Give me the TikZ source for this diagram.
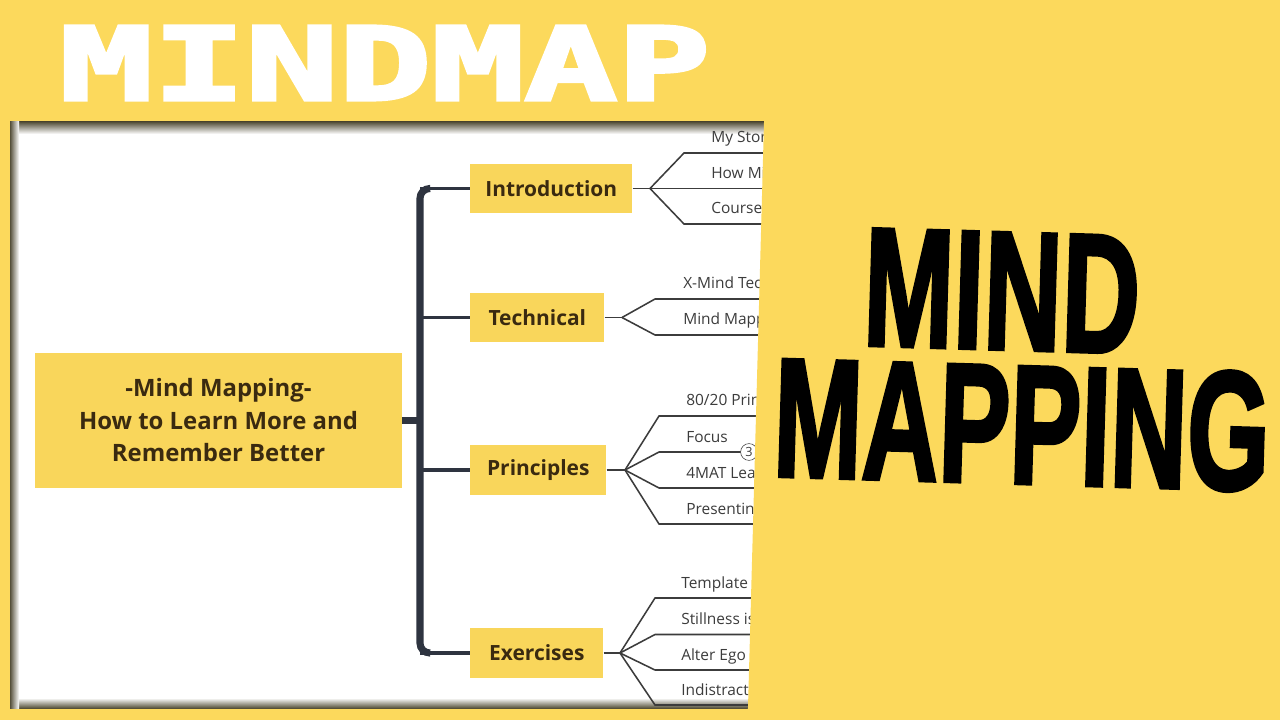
\documentclass[tikz,border=0pt]{standalone}
\usepackage{fontspec}
\usepackage{graphicx}
\setmainfont{Open Sans}
\IfFontExistsTF{Open Sans SemiBold}
  {\newfontfamily\semifont{Open Sans SemiBold}}
  {\newcommand\semifont{\bfseries}}
\newfontfamily\blockfont{DejaVu Sans Mono}[FakeBold=3]
\newfontfamily\heavyfont{Liberation Sans}[FakeBold=2.5]
\usetikzlibrary{calc}

\definecolor{amarillo}{HTML}{FCD95C}
\definecolor{caja}{HTML}{F9D65B}
\definecolor{pizarra}{HTML}{2E3440}
\definecolor{tinta}{HTML}{3A2A10}
\definecolor{gris}{HTML}{3C3C3C}
\definecolor{sombra}{HTML}{55503A}

\begin{document}
\begin{tikzpicture}[
  x=0.025cm, y=-0.025cm,
  rootbox/.style={fill=caja, minimum width=9.175cm, minimum height=3.375cm,
    align=center, text=tinta, font=\fontsize{17}{23.1}\selectfont\bfseries},
  topic/.style={fill=caja, anchor=west, minimum height=1.225cm, inner sep=0pt,
    text=tinta, font=\fontsize{14.9}{18}\selectfont\semifont},
  leaf/.style={anchor=base west, inner sep=0pt, text=gris,
    font=\fontsize{11}{13}\selectfont},
  trunk/.style={draw=pizarra, line width=5pt, rounded corners=7pt},
  twig/.style={draw=pizarra, line width=2.2pt},
  vein/.style={draw=gris, line width=1.1pt}]

  \useasboundingbox (0,0) rectangle (1280,720);
  \fill[amarillo] (0,0) rectangle (1280,720);

  % panel blanco
  \fill[white] (10,122) rectangle (790,708);
  \shade[top color=sombra, bottom color=white] (10,122) rectangle (790,134);
  \shade[top color=white, bottom color=sombra] (10,698) rectangle (790,708);
  \shade[left color=sombra, right color=white] (10,122) rectangle (19,708);

  % nodo central y ramas
  \node[rootbox] (root) at (218.5,420.5)
    {-Mind Mapping-\\How to Learn More and\\Remember Better};
  \node[topic, minimum width=4.05cm]  (intro) at (470,188.5) {Introduction};
  \node[topic, minimum width=3.35cm]  (tech)  at (470,317.5) {Technical};
  \node[topic, minimum width=3.4cm]   (princ) at (470,470)   {Principles};
  \node[topic, minimum width=3.325cm] (exer)  at (470,653)   {Exercises};

  \coordinate (sptop) at (420,188.5);
  \coordinate (spbot) at (420,653);
  \draw[pizarra, line width=4.5pt] (root.east) -- (420,420.5);
  \draw[trunk] ($(sptop)+(10,0)$) -- (sptop) -- (spbot) -- ($(spbot)+(10,0)$);
  \draw[twig] (sptop) -- (intro.west);
  \draw[twig] (420,317.5) -- (tech.west);
  \draw[twig] (420,470) -- (princ.west);
  \draw[twig] (spbot) -- (exer.west);

  % hojas de Introduction
  \coordinate (fi) at (650,188.5);
  \draw[vein] (intro.east) -- (fi);
  \foreach \y/\t [count=\i] in {153/My Stor, 188.5/How Mi, 224/Course} {
    \coordinate (ia\i) at (684,\y);
    \coordinate (ib\i) at (780,\y);
    \node[leaf] (il\i) at (711,\y-10) {\t};
    \draw[vein] (fi) -- (ia\i) -- (ib\i);
  }

  % hojas de Technical
  \coordinate (ft) at (622,317.5);
  \draw[vein] (tech.east) -- (ft);
  \foreach \y/\t [count=\i] in {299/X-Mind Tec, 335/Mind Mapp} {
    \coordinate (ta\i) at (655,\y);
    \coordinate (tb\i) at (780,\y);
    \node[leaf] (tl\i) at (683,\y-10) {\t};
    \draw[vein] (ft) -- (ta\i) -- (tb\i);
  }

  % hojas de Principles
  \coordinate (fp) at (625,470);
  \draw[vein] (princ.east) -- (fp);
  \foreach \y/\t [count=\i] in {416/{80/20 Prin}, 452/Focus, 488/4MAT Lea, 524/Presenting} {
    \coordinate (pa\i) at (659,\y);
    \coordinate (pb\i) at (780,\y);
    \node[leaf] (pl\i) at (686,\y-10) {\t};
    \draw[vein] (fp) -- (pa\i) -- (pb\i);
  }
  \node[draw=gris, fill=white, circle, minimum size=0.42cm, inner sep=0pt,
    text=gris, font=\fontsize{9}{9}\selectfont] (badge) at (749,452) {3};

  % hojas de Exercises
  \coordinate (fe) at (620,653);
  \draw[vein] (exer.east) -- (fe);
  \foreach \y/\t [count=\i] in {598/Template, 634.5/Stillness is, 670/Alter Ego, 705/Indistracta} {
    \coordinate (ea\i) at (655,\y);
    \coordinate (eb\i) at (780,\y);
    \node[leaf] (el\i) at (681,\y-10) {\t};
    \draw[vein] (fe) -- (ea\i) -- (eb\i);
  }

  % franja amarilla inclinada
  \fill[amarillo] (764.2,115) -- (1280,115) -- (1280,715) -- (747.8,715) -- cycle;

  % titulos
  \node[inner sep=0pt, text=white] (banner) at (385,63)
    {\resizebox{16.25cm}{1.85cm}{\blockfont\bfseries MINDMAP}};
  \node[inner sep=0pt, rotate=-1.7] (mind) at (1002,291)
    {\resizebox{6.9cm}{2.9cm}{\heavyfont\bfseries MIND}};
  \node[inner sep=0pt, rotate=-1.7] (mapping) at (1022,425)
    {\resizebox{12.4cm}{2.95cm}{\heavyfont\bfseries MAPPING}};
\end{tikzpicture}
\end{document}
